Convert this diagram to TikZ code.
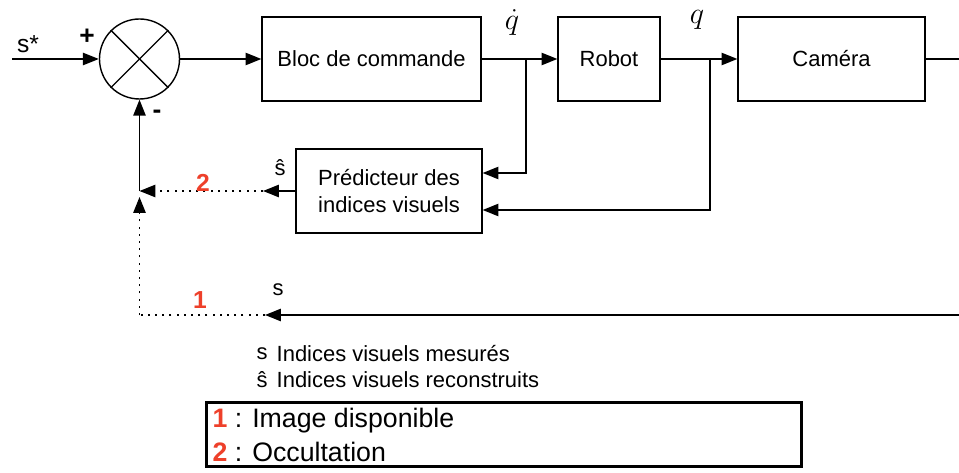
\documentclass[tikz,border=0pt]{standalone}
\usepackage{fontspec}
\setmainfont{Liberation Sans}
\usetikzlibrary{arrows.meta}
\definecolor{numrouge}{RGB}{238,64,42}
\tikzset{
  >={Triangle[length=9pt,width=7pt]},
  bloc/.style={draw, line width=0.7pt, minimum height=1.68cm},
  pointille/.style={dash pattern=on 1.1pt off 3pt},
  numero/.style={text=numrouge, font=\fontsize{14}{16}\selectfont\bfseries},
}
\begin{document}
\begin{tikzpicture}[line width=0.8pt, font=\fontsize{12.5}{15}\selectfont]
\useasboundingbox (0,0) rectangle (19.18,9.44);

% Blocks
\node[circle, draw, minimum size=1.6cm, inner sep=0pt] (sum) at (2.79,8.26) {};
\draw (sum.north west) -- (sum.south east);
\draw (sum.north east) -- (sum.south west);
\node[bloc, minimum width=4.38cm] (cmd) at (7.43,8.26) {Bloc de commande};
\node[bloc, minimum width=2.04cm] (robot) at (12.18,8.26) {Robot};
\node[bloc, minimum width=3.74cm] (cam) at (16.63,8.26) {Caméra};
\node[bloc, minimum width=3.72cm, align=center] (pred) at (7.78,5.62) {Prédicteur des\\indices visuels};

% Points
\coordinate (in) at (0.24,8.26);
\coordinate (qdot) at (10.52,8.26);
\coordinate (qpt) at (14.2,8.26);
\coordinate (out) at (19.18,8.26);
\coordinate (shat) at (5.26,5.62);
\coordinate (fb) at (2.79,5.62);
\coordinate (sin) at (19.18,3.14);
\coordinate (smes) at (5.3,3.14);
\coordinate (coin) at (2.79,3.14);
\coordinate (fbbas) at (2.79,5.5);

% Directed segments
\draw[->] (in) -- (sum);
\draw[->] (sum) -- (cmd);
\draw[->] (cmd) -- (robot);
\draw[->] (robot) -- (cam);
\draw (cam) -- (out);
\draw[->] (qdot) |- ([yshift=0.36cm]pred.east);
\draw[->] (qpt) |- ([yshift=-0.38cm]pred.east);
\draw[->] (pred) -- (shat);
\draw[->, pointille] (shat) -- (fb);
\draw[->] (fb) -- (sum);
\draw[->] (sin) -- (smes);
\draw[pointille] (smes) -- (coin);
\draw[->, pointille] (coin) -- (fbbas);

% Labels
\node[font=\fontsize{14}{16}\selectfont] (setoile) at (0.56,8.56) {s*};
\node[font=\fontsize{15}{16}\selectfont\bfseries] (plus) at (1.74,8.7) {+};
\node[font=\fontsize{15}{16}\selectfont\bfseries] (moins) at (3.14,7.16) {-};
\node[font=\fontsize{18}{20}\selectfont] (lqdot) at (10.24,9.0) {$\dot{q}$};
\node[font=\fontsize{18}{20}\selectfont] (lq) at (13.94,9.04) {$q$};
\node (lshat) at (5.6,6.08) {ŝ};
\node (ls) at (5.56,3.64) {s};
\node[numero] (n2) at (4.06,5.78) {2};
\node[numero] (n1) at (4.0,3.44) {1};

% Legend
\node (legs) at (5.24,2.36) {s};
\node[anchor=west, inner sep=0pt] (legstxt) at (5.52,2.36) {Indices visuels mesurés};
\node (legshat) at (5.24,1.84) {ŝ};
\node[anchor=west, inner sep=0pt] (legshattxt) at (5.52,1.84) {Indices visuels reconstruits};
\node[draw, line width=1.6pt, minimum width=11.9cm, minimum height=1.28cm, anchor=south west] (legende) at (4.1,0.08) {};
\node[anchor=west, inner sep=0pt, font=\fontsize{15.2}{17}\selectfont] (leg1) at (4.24,1.02) {\textcolor{numrouge}{\bfseries 1} : Image disponible};
\node[anchor=west, inner sep=0pt, font=\fontsize{15.2}{17}\selectfont] (leg2) at (4.24,0.40) {\textcolor{numrouge}{\bfseries 2} : Occultation};
\end{tikzpicture}
\end{document}
